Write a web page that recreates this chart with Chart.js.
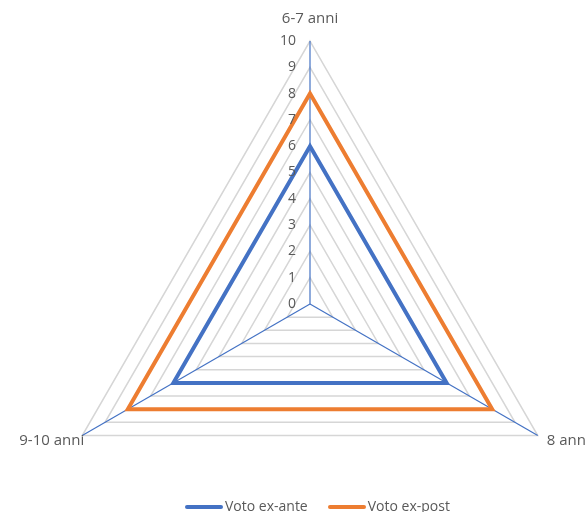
<!DOCTYPE html>
<html>
<head>
<meta charset="utf-8">
<script src="https://cdn.jsdelivr.net/npm/chart.js@4/dist/chart.umd.min.js"></script>
<style>
  html, body { margin: 0; padding: 0; background: #fff; }
  #wrap { position: relative; width: 585px; height: 512px; overflow: hidden; }
  #box { position: absolute; left: 0; top: 0; width: 620px; height: 620px; }
  #legend { position: absolute; left: 185px; top: 496px; white-space: nowrap;
    font-family: "Open Sans", "Liberation Sans", sans-serif; font-size: 14px; color: #595959; }
  #legend span.item { display: inline-block; margin-right: 20px; }
  #legend span.sw { display: inline-block; width: 38px; height: 4px; border-radius: 2px; vertical-align: middle; margin-right: 2px; }
</style>
</head>
<body>
<div id="wrap">
  <div id="box"><canvas id="radar" width="620" height="620"></canvas></div>
  <div id="legend"></div>
</div>
<script>
var categories = ["6-7 anni", "8 anni", "9-10 anni"];
var seriesNames = ["Voto ex-ante", "Voto ex-post"];
var exAnte = [6, 6, 6];
var exPost = [8, 8, 8];
var tickValues = [0, 1, 2, 3, 4, 5, 6, 7, 8, 9, 10];
var colors = ["#4472C4", "#ED7D31"];

var tickFont = '14px "Open Sans", "Liberation Sans", sans-serif';
var pointFont = '15px "Open Sans", "Liberation Sans", sans-serif';

// tick labels to the left of the top spoke, point labels outside the vertices
var labelPlugin = {
  id: "labelPlugin",
  afterDraw: function (chart) {
    var scale = chart.scales.r;
    var ctx = chart.ctx;
    ctx.save();
    ctx.font = tickFont;
    ctx.fillStyle = "#595959";
    ctx.textAlign = "right";
    ctx.textBaseline = "middle";
    tickValues.forEach(function (v) {
      var d = scale.getDistanceFromCenterForValue(v);
      ctx.fillText(String(v), scale.xCenter - 14, scale.yCenter - d);
    });
    ctx.font = pointFont;
    var outer = scale.getDistanceFromCenterForValue(10);
    categories.forEach(function (c, i) {
      var p = scale.getPointPosition(i, outer);
      if (i === 0) {
        ctx.textAlign = "center";
        ctx.fillText(c, p.x, p.y - 22);
      } else if (i === 1) {
        ctx.textAlign = "left";
        ctx.fillText(c, p.x + 9, p.y + 5);
      } else {
        ctx.textAlign = "right";
        ctx.fillText(c, p.x + 2, p.y + 5);
      }
    });
    ctx.restore();
  }
};

new Chart("radar", {
  type: "radar",
  data: {
    labels: categories,
    datasets: [
      {
        label: seriesNames[0],
        data: exAnte,
        borderColor: colors[0],
        backgroundColor: colors[0],
        borderWidth: 4,
        fill: false,
        pointRadius: 0,
      },
      {
        label: seriesNames[1],
        data: exPost,
        borderColor: colors[1],
        backgroundColor: colors[1],
        borderWidth: 4,
        fill: false,
        pointRadius: 0,
      },
    ],
  },
  options: {
    responsive: false,
    animation: false,
    layout: { padding: { top: 41, left: 47, right: 47, bottom: 53 } },
    plugins: {
      legend: { display: false },
      tooltip: { enabled: false },
    },
    elements: { line: { tension: 0, borderJoinStyle: "miter" } },
    scales: {
      r: {
        min: 0,
        max: 10,
        ticks: { display: false, stepSize: 1 },
        pointLabels: { display: false },
        grid: { color: "#d6d6d6", lineWidth: 1.5 },
        angleLines: { color: "#4472C4", lineWidth: 1.2 },
      },
    },
  },
  plugins: [labelPlugin],
});

var legend = document.getElementById("legend");
seriesNames.forEach(function (name, i) {
  var item = document.createElement("span");
  item.className = "item";
  var sw = document.createElement("span");
  sw.className = "sw";
  sw.style.background = colors[i];
  item.appendChild(sw);
  item.appendChild(document.createTextNode(name));
  legend.appendChild(item);
});
</script>
</body>
</html>
